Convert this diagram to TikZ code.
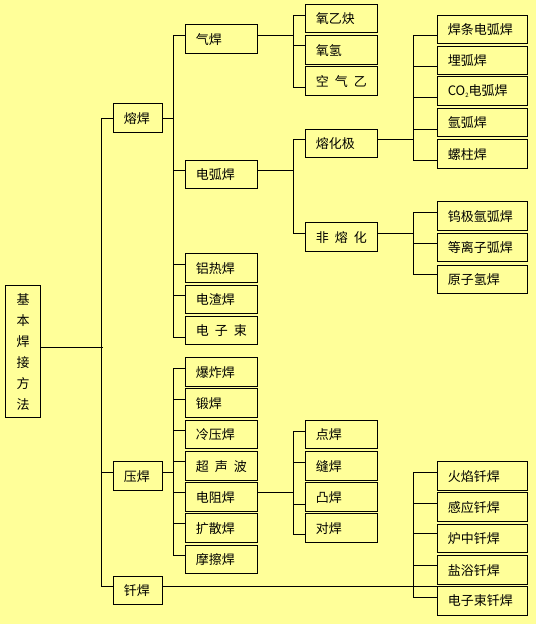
\documentclass[tikz,border=0pt]{standalone}
\usepackage{fontspec}
\newfontfamily\cjk{Noto Sans CJK SC}
\definecolor{bgyellow}{RGB}{255,255,153}
\begin{document}
\begin{tikzpicture}[x=1pt,y=-1pt,
  bx/.style={draw, line width=1.1pt, anchor=north west, inner xsep=10pt, inner ysep=0pt,
    align=left, font=\cjk\fontsize{13pt}{15pt}\selectfont},
  wa/.style={text width=29pt},
  wb/.style={text width=52pt},
  wc/.style={text width=70pt},
  h/.style={minimum height=#1pt},
  ln/.style={line width=1.1pt}]
\fill[bgyellow] (0,0) rectangle (536,624);
\useasboundingbox (0,0) rectangle (536,624);
% level 1
\node[draw, line width=1.1pt, anchor=north west, minimum width=34.4pt, minimum height=132pt, inner sep=0pt,
  align=center, font=\cjk\fontsize{13pt}{21pt}\selectfont] (root) at (5.3,285.3) {基\\本\\焊\\接\\方\\法};
\node[bx,wa,h=29] (rh) at (113.3,103.3) {熔焊};
\node[bx,wa,h=29] (yh) at (113.3,461.3) {压焊};
\node[bx,wa,h=28] (qh2) at (113.3,576.3) {钎焊};
% level 2
\node[bx,wb,h=29] (qh) at (185.3,24.3) {气焊};
\node[bx,wb,h=28] (dhh) at (185.3,160.3) {电弧焊};
\node[bx,wb,h=29] (lrh) at (185.3,253.3) {铝热焊};
\node[bx,wb,h=28] (dzh) at (185.3,285.3) {电渣焊};
\node[bx,wb,h=28] (dzs) at (185.3,316.3) {电\hspace{6pt}子\hspace{6pt}束};
\node[bx,wb,h=29] (bzh) at (185.3,357.3) {爆炸焊};
\node[bx,wb,h=29] (dh) at (185.3,388.3) {锻焊};
\node[bx,wb,h=28] (lyh) at (185.3,420.3) {冷压焊};
\node[bx,wb,h=29] (csb) at (185.3,451.3) {超\hspace{6pt}声\hspace{6pt}波};
\node[bx,wb,h=29] (dzuh) at (185.3,482.3) {电阻焊};
\node[bx,wb,h=29] (ksh) at (185.3,513.3) {扩散焊};
\node[bx,wb,h=28] (mch) at (185.3,545.3) {摩擦焊};
% level 3
\node[bx,wb,h=28] (yyq) at (305.3,4.3) {氧乙炔};
\node[bx,wb,h=29] (yq) at (305.3,35.3) {氧氢};
\node[bx,wb,h=29] (kqy) at (305.3,66.3) {空\hspace{6pt}气\hspace{6pt}乙};
\node[bx,wb,h=28] (rhj) at (305.3,129.3) {熔化极};
\node[bx,wb,h=29] (frh) at (305.3,222.3) {非\hspace{6pt}熔\hspace{6pt}化};
\node[bx,wb,h=28] (dian) at (305.3,420.3) {点焊};
\node[bx,wb,h=29] (feng) at (305.3,451.3) {缝焊};
\node[bx,wb,h=29] (tu) at (305.3,482.3) {凸焊};
\node[bx,wb,h=29] (dui) at (305.3,513.3) {对焊};
% level 4
\node[bx,wc,h=28.6] (htd) at (437.3,14.7) {焊条电弧焊};
\node[bx,wc,h=28.6] (mhh) at (437.3,45.7) {埋弧焊};
\node[bx,wc,h=29] (co2) at (437.3,76.3) {CO{\fontsize{6pt}{6pt}\selectfont\raisebox{-2pt}{2}}电弧焊};
\node[bx,wc,h=28] (yhh) at (437.3,108.3) {氩弧焊};
\node[bx,wc,h=29] (lzh) at (437.3,139.3) {螺柱焊};
\node[bx,wc,h=28.7] (wj) at (437.3,201.3) {钨极氩弧焊};
\node[bx,wc,h=28] (dlz) at (437.3,233.3) {等离子弧焊};
\node[bx,wc,h=28.6] (yzq) at (437.3,264.7) {原子氢焊};
\node[bx,wc,h=28.7] (hy) at (437.3,461.3) {火焰钎焊};
\node[bx,wc,h=28.7] (gy) at (437.3,492.3) {感应钎焊};
\node[bx,wc,h=28.3] (lz) at (437.3,524) {炉中钎焊};
\node[bx,wc,h=28.7] (yy) at (437.3,555.3) {盐浴钎焊};
\node[bx,wc,h=29] (dzq) at (437.3,586) {电子束钎焊};
% main bus
\draw[ln] ([yshift=4pt]root.east) -- ++(61.8,0);
\draw[ln] ([yshift=-0.5pt]rh.west) -| ([xshift=-11.8pt,yshift=4pt]qh2.west) -- ([yshift=4pt]qh2.west);
\draw[ln] ([yshift=3.5pt]yh.west) -- ++(-11.8,0);
% 熔焊 group
\draw[ln] ([yshift=-0.5pt]rh.east) -- ++(11,0);
\draw[ln] ([yshift=3.5pt]qh.west) -| ([xshift=-12pt,yshift=-6.7pt]dzs.west) -- ([yshift=-6.7pt]dzs.west);
\draw[ln] ([yshift=4pt]dhh.west) -- ++(-12,0);
\draw[ln] ([yshift=3.5pt]lrh.west) -- ++(-12,0);
\draw[ln] ([yshift=4pt]dzh.west) -- ++(-12,0);
% 压焊 group
\draw[ln] ([yshift=3.5pt]yh.east) -- ++(11,0);
\draw[ln] ([yshift=3.5pt]bzh.west) -| ([xshift=-12pt,yshift=4pt]mch.west) -- ([yshift=4pt]mch.west);
\draw[ln] ([yshift=3.5pt]dh.west) -- ++(-12,0);
\draw[ln] ([yshift=4pt]lyh.west) -- ++(-12,0);
\draw[ln] ([yshift=4.5pt]csb.west) -- ++(-12,0);
\draw[ln] ([yshift=4.5pt]dzuh.west) -- ++(-12,0);
\draw[ln] ([yshift=4.5pt]ksh.west) -- ++(-12,0);
% 气焊 group
\draw[ln] ([yshift=3.5pt]qh.east) -- ++(36,0);
\draw[ln] ([yshift=3.6pt]yyq.west) -| ([xshift=-12pt,yshift=-6.5pt]kqy.west) -- ([yshift=-6.5pt]kqy.west);
\draw[ln] ([yshift=4.5pt]yq.west) -- ++(-12,0);
% 电弧焊 group
\draw[ln] ([yshift=4pt]dhh.east) -- ++(36,0);
\draw[ln] ([yshift=4pt]rhj.west) -| ([xshift=-12pt,yshift=3.5pt]frh.west) -- ([yshift=3.5pt]frh.west);
% 电阻焊 group
\draw[ln] ([yshift=4.8pt]dzuh.east) -- ++(36,0);
\draw[ln] ([yshift=3.6pt]dian.west) -| ([xshift=-12pt,yshift=-6.5pt]dui.west) -- ([yshift=-6.5pt]dui.west);
\draw[ln] ([yshift=4.1pt]feng.west) -- ++(-12,0);
\draw[ln] ([yshift=-7.5pt]tu.west) -- ++(-12,0);
% 熔化极 group
\draw[ln] ([yshift=4pt]rhj.east) -- ++(36,0);
\draw[ln] ([yshift=-6.3pt]htd.west) -| ([xshift=-24pt,yshift=-6.5pt]lzh.west) -- ([yshift=-6.5pt]lzh.west);
\draw[ln] ([yshift=-6.3pt]mhh.west) -- ++(-24,0);
\draw[ln] ([yshift=-6.5pt]co2.west) -- ++(-24,0);
\draw[ln] ([yshift=-7pt]yhh.west) -- ++(-24,0);
% 非熔化 group
\draw[ln] ([yshift=3.5pt]frh.east) -- ++(36,0);
\draw[ln] ([yshift=3.4pt]wj.west) -| ([xshift=-24pt,yshift=4.7pt]yzq.west) -- ([yshift=4.7pt]yzq.west);
\draw[ln] ([yshift=4pt]dlz.west) -- ++(-24,0);
% 钎焊 group
\draw[ln] ([yshift=4pt]qh2.east) -- ([yshift=4pt]qh2.east -| dzq.west);
\draw[ln] ([yshift=3.4pt]hy.west) -| ([xshift=-24pt,yshift=3.2pt]dzq.west) -- ([yshift=3.2pt]dzq.west);
\draw[ln] ([yshift=4pt]gy.west) -- ++(-24,0);
\draw[ln] ([yshift=4.9pt]lz.west) -- ++(-24,0);
\draw[ln] ([yshift=4.7pt]yy.west) -- ++(-24,0);
\end{tikzpicture}
\end{document}
